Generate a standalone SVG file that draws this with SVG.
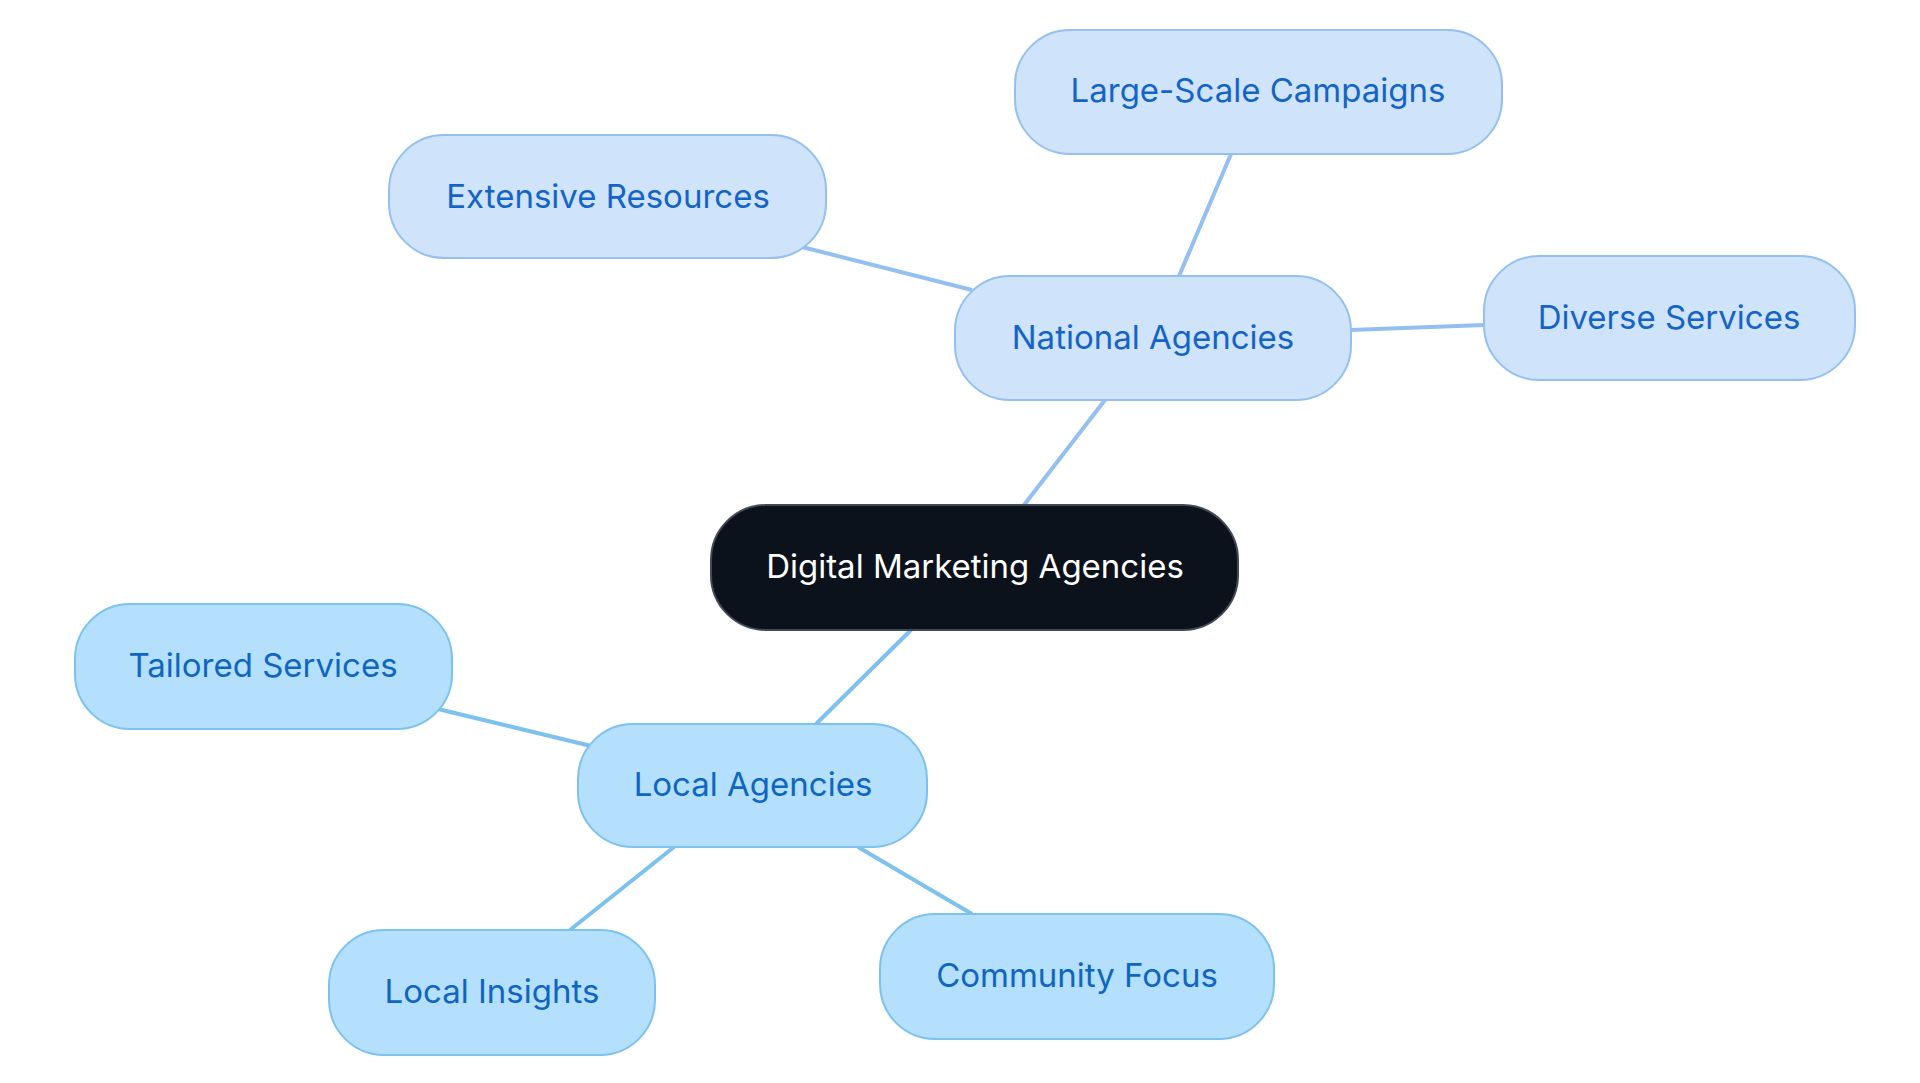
<svg xmlns="http://www.w3.org/2000/svg" width="1920" height="1083" viewBox="0 0 1920 1083">
<style>
text{font-family:Inter,"Noto Sans","Liberation Sans",sans-serif;font-size:33px;text-anchor:middle;dominant-baseline:central}
.n rect{fill:#cfe3fb;stroke:#93c0f0;stroke-width:2}
.n text{fill:#1463c7}
.l rect{fill:#b4dffd;stroke:#7dc1ef;stroke-width:2}
.l text{fill:#0f66c0}
.ne{stroke:#93c0f0;stroke-width:4}
.le{stroke:#7dc1ef;stroke-width:4}
</style>
<rect width="1920" height="1083" fill="#fff"/>
<g id="connectors">
<line class="ne" x1="1024" y1="505" x2="1105" y2="400"/>
<line class="ne" x1="1179" y1="276" x2="1231" y2="154"/>
<line class="ne" x1="972" y1="290" x2="802" y2="247"/>
<line class="ne" x1="1351" y1="330" x2="1484" y2="325"/>
<line class="le" x1="911" y1="630" x2="816" y2="724"/>
<line class="le" x1="591" y1="746" x2="438" y2="709"/>
<line class="le" x1="674" y1="847" x2="570" y2="930"/>
<line class="le" x1="858" y1="847" x2="972" y2="914"/>
</g>
<g id="central"><rect x="711" y="505" width="527" height="125" rx="55" fill="#0c121b" stroke="#444a52" stroke-width="2"/><text x="975" y="566" fill="#fff">Digital Marketing Agencies</text></g>
<g id="national" class="n"><rect x="955" y="276" width="396" height="124" rx="55"/><text x="1153" y="337">National Agencies</text></g>
<g id="large" class="n"><rect x="1015" y="30" width="487" height="124" rx="55"/><text x="1258" y="90">Large-Scale Campaigns</text></g>
<g id="extensive" class="n"><rect x="389" y="135" width="437" height="123" rx="55"/><text x="608" y="196">Extensive Resources</text></g>
<g id="diverse" class="n"><rect x="1484" y="256" width="371" height="124" rx="55"/><text x="1669" y="317">Diverse Services</text></g>
<g id="local" class="l"><rect x="578" y="724" width="349" height="123" rx="55"/><text x="753" y="784">Local Agencies</text></g>
<g id="tailored" class="l"><rect x="75" y="604" width="377" height="125" rx="55"/><text x="263" y="665">Tailored Services</text></g>
<g id="insights" class="l"><rect x="329" y="930" width="326" height="125" rx="55"/><text x="492" y="991">Local Insights</text></g>
<g id="community" class="l"><rect x="880" y="914" width="394" height="125" rx="55"/><text x="1077" y="975">Community Focus</text></g>
</svg>
